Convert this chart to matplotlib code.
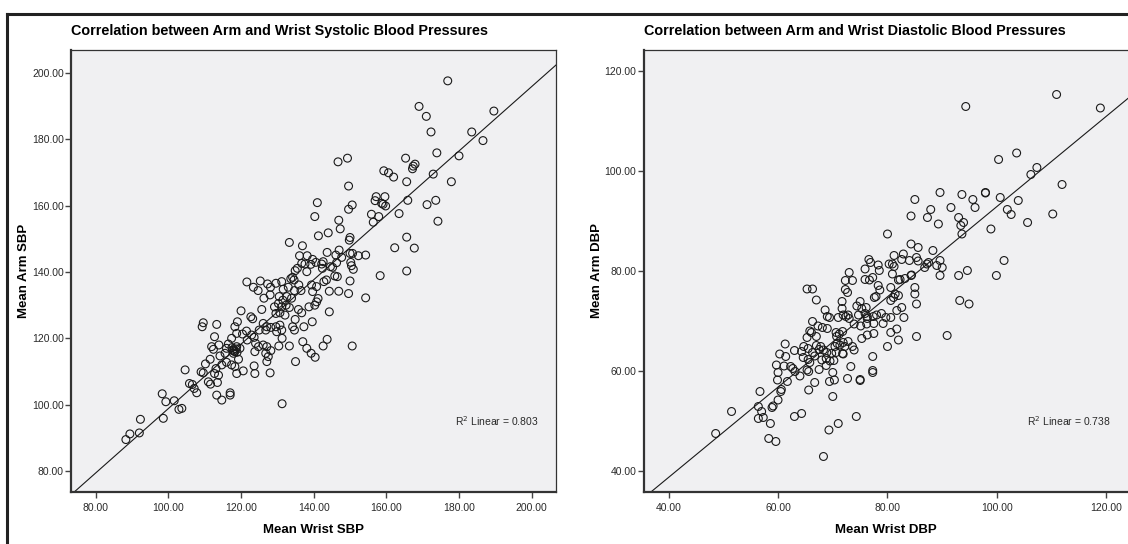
import numpy as np
import matplotlib
matplotlib.use('Agg')
import matplotlib.pyplot as plt
from matplotlib.lines import Line2D

# Systolic readings (mean wrist vs mean arm)
sbp_wrist = [88.3, 89.4, 92.0, 92.3, 98.6, 98.3, 99.3, 101.6, 102.9, 103.7, 104.6, 105.8, 106.6, 107.8, 107.1,
             109.0, 109.6, 110.2, 109.3, 109.6, 111.0, 111.6, 113.5, 112.7, 113.1, 113.8, 113.3, 114.7, 117.0, 117.0,
             111.5, 111.9, 112.4, 112.7, 113.3, 113.9, 114.2, 115.6, 116.0, 114.7, 116.0, 116.5, 117.4, 118.3, 119.0,
             118.8, 117.7, 118.3, 117.9, 118.8, 119.7, 117.4, 118.3, 118.8, 119.3, 120.6, 120.4, 121.5, 121.7, 120.0,
             122.7, 123.2, 122.9, 123.6, 124.0, 124.8, 123.8, 123.6, 123.8, 125.0, 126.1, 127.1, 126.8, 127.5, 128.2,
             127.1, 128.0, 126.1, 127.1, 126.8, 128.2, 129.6, 130.7, 131.2, 129.8, 125.7, 129.2, 130.3, 131.2, 132.4,
             133.3, 130.7, 129.6, 132.1, 126.3, 128.0, 130.5, 131.5, 132.6, 133.9, 121.6, 123.4, 124.7, 125.3, 127.3,
             128.1, 129.6, 131.2, 131.6, 133.0, 134.7, 134.2, 134.6, 133.7, 133.3, 136.9, 136.1, 138.2, 139.7, 136.7,
             137.6, 139.2, 135.5, 134.9, 138.1, 135.9, 136.5, 139.4, 139.7, 135.8, 136.7, 134.9, 134.2, 134.7, 137.3,
             138.7, 139.6, 137.0, 138.1, 139.3, 140.4, 133.3, 135.0, 130.4, 131.3, 131.3, 118.0, 118.6, 117.5, 118.9,
             176.9, 169.0, 171.0, 172.3, 189.6, 183.5, 186.6, 173.9, 180.0, 172.9, 177.9, 173.6, 171.2, 174.2, 146.7,
             149.3, 149.6, 141.0, 140.3, 150.6, 149.6, 146.9, 147.3, 141.3, 144.0, 159.3, 160.6, 162.0, 165.3, 165.6,
             167.4, 167.9, 167.2, 157.2, 159.6, 156.9, 158.7, 159.1, 159.8, 155.9, 157.9, 156.4, 165.9, 163.5, 165.6,
             162.3, 167.7, 165.6, 158.3, 154.3, 154.3, 150.0, 149.8, 147.0, 143.7, 146.1, 147.7, 150.0, 150.7, 152.3,
             150.2, 150.4, 150.9, 146.3, 145.2, 144.6, 142.6, 142.2, 140.6, 142.4, 145.8, 146.5, 143.5, 142.8, 150.0,
             144.3, 146.9, 149.6, 140.8, 141.2, 140.8, 140.3, 144.3, 143.7, 142.6, 150.6]
sbp_arm = [89.5, 91.2, 91.5, 95.6, 95.9, 103.3, 100.9, 101.2, 98.6, 98.9, 110.5, 106.4, 106.1, 103.6, 104.9,
           109.9, 109.6, 112.3, 123.5, 124.7, 106.9, 106.2, 106.7, 109.4, 110.9, 108.9, 102.9, 101.4, 103.6, 102.9,
           113.7, 117.5, 116.7, 120.5, 124.2, 118.0, 114.7, 115.5, 112.8, 112.0, 117.0, 118.3, 120.0, 123.5, 125.0,
           121.5, 116.5, 116.0, 115.5, 117.5, 117.0, 112.0, 111.5, 109.4, 113.7, 110.2, 121.3, 122.2, 119.5, 128.3,
           126.5, 125.9, 121.0, 120.3, 118.5, 117.5, 116.0, 111.7, 109.4, 122.5, 118.0, 117.5, 115.5, 114.5, 116.3,
           113.0, 109.6, 124.5, 123.5, 122.5, 123.3, 123.5, 124.0, 122.5, 122.0, 128.7, 129.5, 130.5, 129.5, 130.0,
           129.3, 127.7, 127.5, 127.0, 132.1, 133.1, 132.6, 131.5, 132.6, 132.1, 137.0, 135.4, 134.4, 137.3, 136.4,
           135.4, 136.6, 137.1, 134.8, 135.4, 134.4, 138.4, 137.6, 138.0, 148.9, 147.9, 144.9, 144.9, 143.8, 142.6,
           142.4, 142.3, 141.1, 140.4, 140.1, 136.1, 134.4, 136.1, 134.1, 128.7, 127.7, 125.7, 123.5, 122.5, 123.5,
           129.5, 125.0, 119.0, 117.0, 115.5, 114.3, 117.7, 113.0, 117.7, 120.0, 100.3, 116.2, 116.8, 117.2, 115.8,
           197.6, 189.9, 186.9, 182.2, 188.5, 182.2, 179.6, 175.9, 175.0, 169.5, 167.2, 161.6, 160.3, 155.3, 173.2,
           174.3, 165.9, 160.9, 156.7, 160.2, 158.9, 155.6, 153.0, 150.9, 151.8, 170.5, 169.9, 168.6, 174.3, 167.2,
           171.9, 172.5, 171.1, 162.7, 162.7, 161.5, 160.7, 160.4, 159.9, 157.4, 156.7, 155.0, 161.6, 157.6, 150.5,
           147.3, 147.2, 140.3, 138.9, 145.1, 132.2, 150.4, 149.6, 146.6, 145.9, 145.1, 144.4, 145.6, 145.6, 144.9,
           142.9, 141.9, 140.8, 142.8, 141.4, 141.6, 143.1, 142.4, 142.9, 141.1, 138.8, 138.6, 137.6, 137.1, 137.3,
           134.2, 134.2, 133.5, 135.6, 132.0, 131.0, 130.0, 128.0, 119.7, 117.7, 117.7]

# Diastolic readings
dbp_wrist = [48.6, 76.6, 76.9, 75.9, 78.3, 78.5, 77.3, 76.7, 75.9, 78.3, 78.6, 77.6, 77.9, 73.0, 72.3,
             73.6, 72.3, 72.7, 65.3, 66.3, 67.0, 71.7, 68.6, 69.0, 69.4, 71.0, 71.9, 72.4, 72.8, 73.0,
             71.7, 74.4, 75.0, 75.3, 76.1, 75.9, 76.3, 74.7, 73.9, 75.1, 76.2, 77.5, 76.3, 77.4, 78.0,
             78.9, 79.2, 79.7, 66.3, 67.3, 68.1, 69.0, 65.8, 66.1, 65.3, 67.0, 70.6, 71.2, 71.8, 70.7,
             70.8, 71.3, 71.9, 70.4, 72.2, 72.8, 73.6, 73.9, 75.3, 76.3, 77.5, 71.8, 71.9, 70.6, 69.8,
             68.9, 68.3, 67.8, 64.7, 64.3, 65.5, 66.3, 67.0, 67.5, 65.5, 65.8, 66.7, 68.0, 68.8, 69.5,
             70.2, 68.8, 67.5, 61.3, 60.3, 61.4, 59.7, 61.1, 62.3, 62.7, 63.1, 64.0, 60.0, 59.9, 61.7,
             60.6, 60.5, 60.0, 59.1, 58.9, 65.3, 65.6, 63.0, 64.6, 66.7, 65.6, 69.4, 70.3, 70.0, 70.0,
             72.7, 73.3, 75.0, 75.0, 77.3, 77.3, 77.3, 56.7, 56.4, 57.0, 57.3, 56.4, 51.5, 58.6, 58.3,
             59.6, 63.0, 64.3, 69.3, 71.0, 74.3, 68.3,
             110.9, 118.9, 94.3, 100.3, 103.6, 106.2, 107.3, 111.9, 85.0, 89.6, 93.6, 97.9, 97.9, 95.6, 100.6,
             103.9, 87.9, 91.6, 96.0, 84.3, 87.3, 89.3, 93.0, 93.9, 93.4, 93.6, 101.9, 102.6, 105.6, 98.9,
             110.2, 80.0, 84.3, 85.6, 88.3, 81.2, 82.9, 82.6, 84.0, 85.3, 85.6, 80.9, 80.3, 81.2, 87.2,
             87.5, 86.8, 89.0, 89.6, 90.0, 89.6, 84.3, 84.4, 80.9, 82.3, 83.2, 82.0, 93.0, 94.6, 99.9,
             101.3, 85.0, 85.0, 85.3, 80.6, 81.4, 82.0, 81.1, 80.6, 82.6, 81.7, 83.0, 80.6, 81.7, 80.6,
             82.0, 80.0, 85.3, 90.9, 93.2, 94.9]
dbp_arm = [47.5, 82.3, 81.7, 80.4, 81.2, 80.1, 78.7, 78.2, 78.3, 77.1, 76.2, 74.7, 74.9, 79.7, 78.1,
           78.1, 76.3, 75.7, 76.4, 76.4, 74.2, 73.9, 72.2, 70.9, 70.7, 70.7, 71.2, 70.9, 71.2, 70.5,
           72.5, 73.0, 73.9, 72.5, 72.7, 71.5, 70.9, 71.2, 69.4, 69.0, 69.4, 69.5, 70.5, 70.9, 71.2,
           71.5, 69.5, 70.7, 69.9, 69.0, 68.7, 68.5, 68.0, 67.7, 66.7, 66.9, 67.7, 67.4, 67.9, 66.9,
           65.5, 65.2, 65.7, 64.9, 64.9, 65.9, 64.9, 64.2, 66.5, 67.2, 67.5, 63.5, 63.4, 63.7, 63.5,
           63.7, 64.2, 64.9, 64.9, 63.9, 64.5, 63.7, 65.1, 64.3, 62.3, 61.7, 63.0, 62.2, 62.5, 62.0,
           62.1, 61.1, 60.3, 65.4, 63.4, 62.9, 61.2, 61.0, 60.9, 60.5, 59.9, 59.0, 59.7, 58.2, 57.9,
           56.3, 55.9, 54.2, 53.0, 52.7, 60.2, 59.9, 64.1, 62.7, 57.7, 56.2, 57.9, 58.2, 59.7, 54.9,
           58.5, 60.9, 58.3, 58.1, 62.9, 60.1, 59.7, 55.9, 52.9, 51.9, 50.7, 50.5, 51.9, 49.5, 46.5,
           45.9, 50.9, 51.5, 48.2, 49.5, 50.9, 42.9,
           115.3, 112.6, 112.9, 102.3, 103.6, 99.3, 100.7, 97.3, 94.3, 95.7, 95.3, 95.7, 95.6, 94.3, 94.7,
           94.1, 92.3, 92.7, 92.7, 91.0, 90.7, 89.4, 90.7, 89.7, 89.1, 87.4, 92.3, 91.3, 89.7, 88.4,
           91.4, 87.4, 85.4, 84.7, 84.1, 83.1, 83.4, 82.3, 82.1, 82.7, 82.0, 81.4, 81.4, 80.9, 81.4,
           81.7, 80.7, 81.1, 82.1, 80.7, 79.1, 79.1, 79.2, 79.4, 78.3, 78.5, 78.2, 79.1, 80.1, 79.1,
           82.1, 76.7, 75.4, 73.4, 76.7, 75.4, 75.1, 74.7, 74.1, 72.7, 72.1, 70.7, 70.7, 68.4, 67.7,
           66.2, 64.9, 66.9, 67.1, 74.1, 73.4]

sbp_ticks = [80, 100, 120, 140, 160, 180, 200]
dbp_ticks = [40, 60, 80, 100, 120]

label_font = ['Liberation Sans', 'DejaVu Sans']
tick_font = ['Liberation Sans', 'DejaVu Sans']

fig = plt.figure(figsize=(11.28, 5.44), dpi=100)
fig.patch.set_facecolor('white')

# outer frame of the figure (top and left edges only)
fig.add_artist(Line2D([0.0062, 1.0], [0.9743, 0.9743], color='#222222', lw=2.2))
fig.add_artist(Line2D([0.0062, 0.0062], [0.0, 0.9743], color='#222222', lw=2.2))


def draw_panel(ax, x, y, ticks, lims, title, xlabel, ylabel, r2_text):
    x = np.array(x)
    y = np.array(y)
    ax.set_facecolor('#f0f0f2')
    ax.scatter(x, y, s=32, facecolors='none', edgecolors='#1a1a1a', linewidths=0.8, zorder=3)

    # least squares line over the full x range
    slope, intercept = np.polyfit(x, y, 1)
    xs = np.array(lims[0])
    ax.plot(xs, slope * xs + intercept, color='#1a1a1a', lw=0.8, zorder=2)

    ax.set_xlim(lims[0])
    ax.set_ylim(lims[1])
    ax.set_xticks(ticks)
    ax.set_yticks(ticks)
    ax.set_xticklabels(['%.2f' % t for t in ticks], family=tick_font, fontsize=7.5, color='#2a2a2a')
    ax.set_yticklabels(['%.2f' % t for t in ticks], family=tick_font, fontsize=7.5, color='#2a2a2a')
    ax.tick_params(direction='out', length=4, width=1, color='#444444', pad=1.5)
    ax.tick_params(axis='x', pad=4)

    for side in ['top', 'right']:
        ax.spines[side].set_linewidth(0.9)
        ax.spines[side].set_color('#333333')
    for side in ['bottom', 'left']:
        ax.spines[side].set_linewidth(1.6)
        ax.spines[side].set_color('#333333')

    ax.set_title(title, loc='left', family=label_font, fontsize=10.4, fontweight='bold', pad=11)
    ax.set_xlabel(xlabel, family=label_font, fontsize=9.5, fontweight='bold')
    ax.set_ylabel(ylabel, family=label_font, fontsize=9.5, fontweight='bold')
    ax.xaxis.set_label_coords(0.5, -0.073)
    ax.yaxis.set_label_coords(-0.085, 0.5)
    ax.text(0.792, 0.16, r2_text, transform=ax.transAxes, family=tick_font, fontsize=7.5,
            color='#2a2a2a', va='center')


ax1 = fig.add_axes([0.0633, 0.0956, 0.4296, 0.8125])
draw_panel(ax1, sbp_wrist, sbp_arm, sbp_ticks, [(73.3, 206.7), (73.7, 206.9)],
           'Correlation between Arm and Wrist Systolic Blood Pressures',
           'Mean Wrist SBP', 'Mean Arm SBP', 'R$^2$ Linear = 0.803')

ax2 = fig.add_axes([0.5709, 0.0956, 0.4291, 0.8125])
draw_panel(ax2, dbp_wrist, dbp_arm, dbp_ticks, [(35.5, 123.95), (35.8, 124.2)],
           'Correlation between Arm and Wrist Diastolic Blood Pressures',
           'Mean Wrist DBP', 'Mean Arm DBP', 'R$^2$ Linear = 0.738')
ax2.spines['right'].set_visible(False)

plt.savefig('out.png', dpi=100)
